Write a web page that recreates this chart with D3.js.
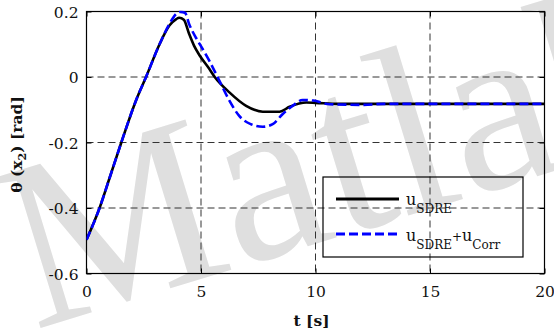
<!DOCTYPE html>
<html>
<head>
<meta charset="utf-8">
<script src="https://cdn.jsdelivr.net/npm/d3@7"></script>
<style>
  html, body { margin: 0; padding: 0; background: #fff; }
  svg { display: block; }
</style>
</head>
<body>
<svg id="chart" width="554" height="330"></svg>
<script>
// ---- data ----
const sdreT = [0, 0.57, 1.0, 1.52, 2.17, 2.6, 3.19, 3.62, 3.92, 4.05, 4.25, 4.48, 4.7, 4.95, 5.36, 5.6, 6.24, 6.97, 7.7, 8.43, 8.87, 9.6, 10, 11, 20];
const sdreV = [-0.497, -0.4, -0.31, -0.2, -0.07, 0, 0.1, 0.157, 0.177, 0.181, 0.175, 0.132, 0.095, 0.065, 0.025, 0, -0.047, -0.088, -0.106, -0.106, -0.091, -0.078, -0.079, -0.082, -0.082];

const corrT = [0, 0.57, 1.0, 1.52, 2.17, 2.6, 3.19, 3.62, 3.92, 4.1, 4.3, 4.48, 4.77, 4.95, 5.36, 5.8, 6.24, 6.66, 7.17, 7.7, 8.13, 8.57, 9.0, 9.44, 9.9, 10.6, 12.1, 13, 20];
const corrV = [-0.497, -0.4, -0.31, -0.2, -0.07, 0, 0.1, 0.162, 0.193, 0.199, 0.196, 0.162, 0.121, 0.1, 0.05, -0.011, -0.072, -0.118, -0.144, -0.152, -0.144, -0.113, -0.088, -0.07, -0.072, -0.083, -0.085, -0.082, -0.082];

const xTicks = [0, 5, 10, 15, 20];
const yTicks = [0.2, 0, -0.2, -0.4, -0.6];
const xTickLabels = ["0", "5", "10", "15", "20"];
const yTickLabels = ["0.2", "0", "-0.2", "-0.4", "-0.6"];
const seriesNames = ["SDRE", "SDRE+Corr"];

// ---- layout ----
const L = 86.5, R = 544.5, T = 11.5, B = 273.5;
const svg = d3.select("#chart");
svg.append("rect").attr("width", 554).attr("height", 330).attr("fill", "#fff");

const x = d3.scaleLinear().domain([0, 20]).range([L, R]);
const y = d3.scaleLinear().domain([-0.6, 0.2]).range([B, T]);

// watermark
svg.append("text")
  .attr("transform", "translate(34,330) rotate(-17)")
  .attr("font-family", "Liberation Serif, serif")
  .attr("font-size", 240)
  .attr("fill", "#dfdfdf")
  .text("Matlab");

// grid
const grid = svg.append("g").attr("stroke", "#333").attr("stroke-width", 1).attr("stroke-dasharray", "7,4");
grid.selectAll("line.gx").data(xTicks.slice(1, -1)).join("line")
  .attr("x1", d => x(d)).attr("x2", d => x(d)).attr("y1", T).attr("y2", B);
grid.selectAll("line.gy").data(yTicks.slice(1, -1)).join("line")
  .attr("y1", d => y(d)).attr("y2", d => y(d)).attr("x1", L).attr("x2", R);

// axes with inward ticks
const fontNum = "DejaVu Serif, serif";
const xAxis = d3.axisBottom(x).tickValues(xTicks).tickSize(-5).tickPadding(12)
  .tickFormat((d, i) => xTickLabels[i]);
const yAxis = d3.axisLeft(y).tickValues(yTicks).tickSize(-5).tickPadding(8)
  .tickFormat((d, i) => yTickLabels[i]);
const gx = svg.append("g").attr("transform", `translate(0,${B})`).call(xAxis);
const gy = svg.append("g").attr("transform", `translate(${L},0)`).call(yAxis);
[gx, gy].forEach(g => {
  g.select(".domain").remove();
  g.selectAll("line").attr("stroke", "#000");
  g.selectAll("text").attr("font-family", fontNum).attr("font-size", 15.5).attr("fill", "#111");
});
gy.selectAll("text").attr("dy", "0.36em");
gx.selectAll("text").attr("dy", "0.72em");
// top/right ticks
svg.append("g").attr("transform", `translate(0,${T})`).call(d3.axisTop(x).tickValues(xTicks).tickSize(-5).tickFormat(""))
  .call(g => { g.select(".domain").remove(); g.selectAll("line").attr("stroke", "#000"); });
svg.append("g").attr("transform", `translate(${R},0)`).call(d3.axisRight(y).tickValues(yTicks).tickSize(-5).tickFormat(""))
  .call(g => { g.select(".domain").remove(); g.selectAll("line").attr("stroke", "#000"); });

// frame
svg.append("rect").attr("x", L).attr("y", T).attr("width", R - L).attr("height", B - T)
  .attr("fill", "none").attr("stroke", "#000").attr("stroke-width", 1.2);

// lines
const clip = svg.append("clipPath").attr("id", "clip").append("rect")
  .attr("x", L).attr("y", T - 1).attr("width", R - L).attr("height", B - T + 2);
const line = d3.line().x(d => x(d[0])).y(d => y(d[1])).curve(d3.curveMonotoneX);
const sdre = sdreT.map((t, i) => [t, sdreV[i]]);
const corr = corrT.map((t, i) => [t, corrV[i]]);
const lg = svg.append("g").attr("clip-path", "url(#clip)");
lg.append("path").datum(sdre).attr("d", line).attr("fill", "none").attr("stroke", "#000").attr("stroke-width", 2.6);
lg.append("path").datum(corr).attr("d", line).attr("fill", "none").attr("stroke", "#0000ff").attr("stroke-width", 2.6)
  .attr("stroke-dasharray", "9,4");

// axis labels
svg.append("text").attr("x", (L + R) / 2 - 4).attr("y", 326).attr("text-anchor", "middle")
  .attr("font-family", fontNum).attr("font-weight", "bold").attr("font-size", 15.5).attr("fill", "#111")
  .text("t [s]");
const yl = svg.append("text").attr("transform", `translate(22,${(T + B) / 2 + 2}) rotate(-90)`)
  .attr("text-anchor", "middle").attr("font-family", fontNum).attr("font-weight", "bold")
  .attr("font-size", 15.5).attr("fill", "#111");
yl.append("tspan").text("θ (x");
yl.append("tspan").attr("font-size", 11).attr("dy", 4).text("2");
yl.append("tspan").attr("dy", -4).text(") [rad]");

// legend
const leg = svg.append("g");
leg.append("rect").attr("x", 323).attr("y", 177).attr("width", 200).attr("height", 80)
  .attr("fill", "none").attr("stroke", "#000").attr("stroke-width", 1.2);
leg.append("line").attr("x1", 336).attr("x2", 399).attr("y1", 199).attr("y2", 199)
  .attr("stroke", "#000").attr("stroke-width", 3);
leg.append("line").attr("x1", 336).attr("x2", 399).attr("y1", 234).attr("y2", 234)
  .attr("stroke", "#0000ff").attr("stroke-width", 3).attr("stroke-dasharray", "9,4");
const t1 = leg.append("text").attr("x", 406).attr("y", 205).attr("font-family", fontNum).attr("font-size", 16).attr("fill", "#111");
t1.append("tspan").text("u");
t1.append("tspan").attr("font-size", 12).attr("dy", 8).text(seriesNames[0]);
const t2 = leg.append("text").attr("x", 406).attr("y", 241).attr("font-family", fontNum).attr("font-size", 16).attr("fill", "#111");
t2.append("tspan").text("u");
t2.append("tspan").attr("font-size", 12).attr("dy", 8).text("SDRE");
t2.append("tspan").attr("font-size", 12).attr("dy", -8).text("+");
t2.append("tspan").text("u");
t2.append("tspan").attr("font-size", 12).attr("dy", 8).text("Corr");
</script>
</body>
</html>
